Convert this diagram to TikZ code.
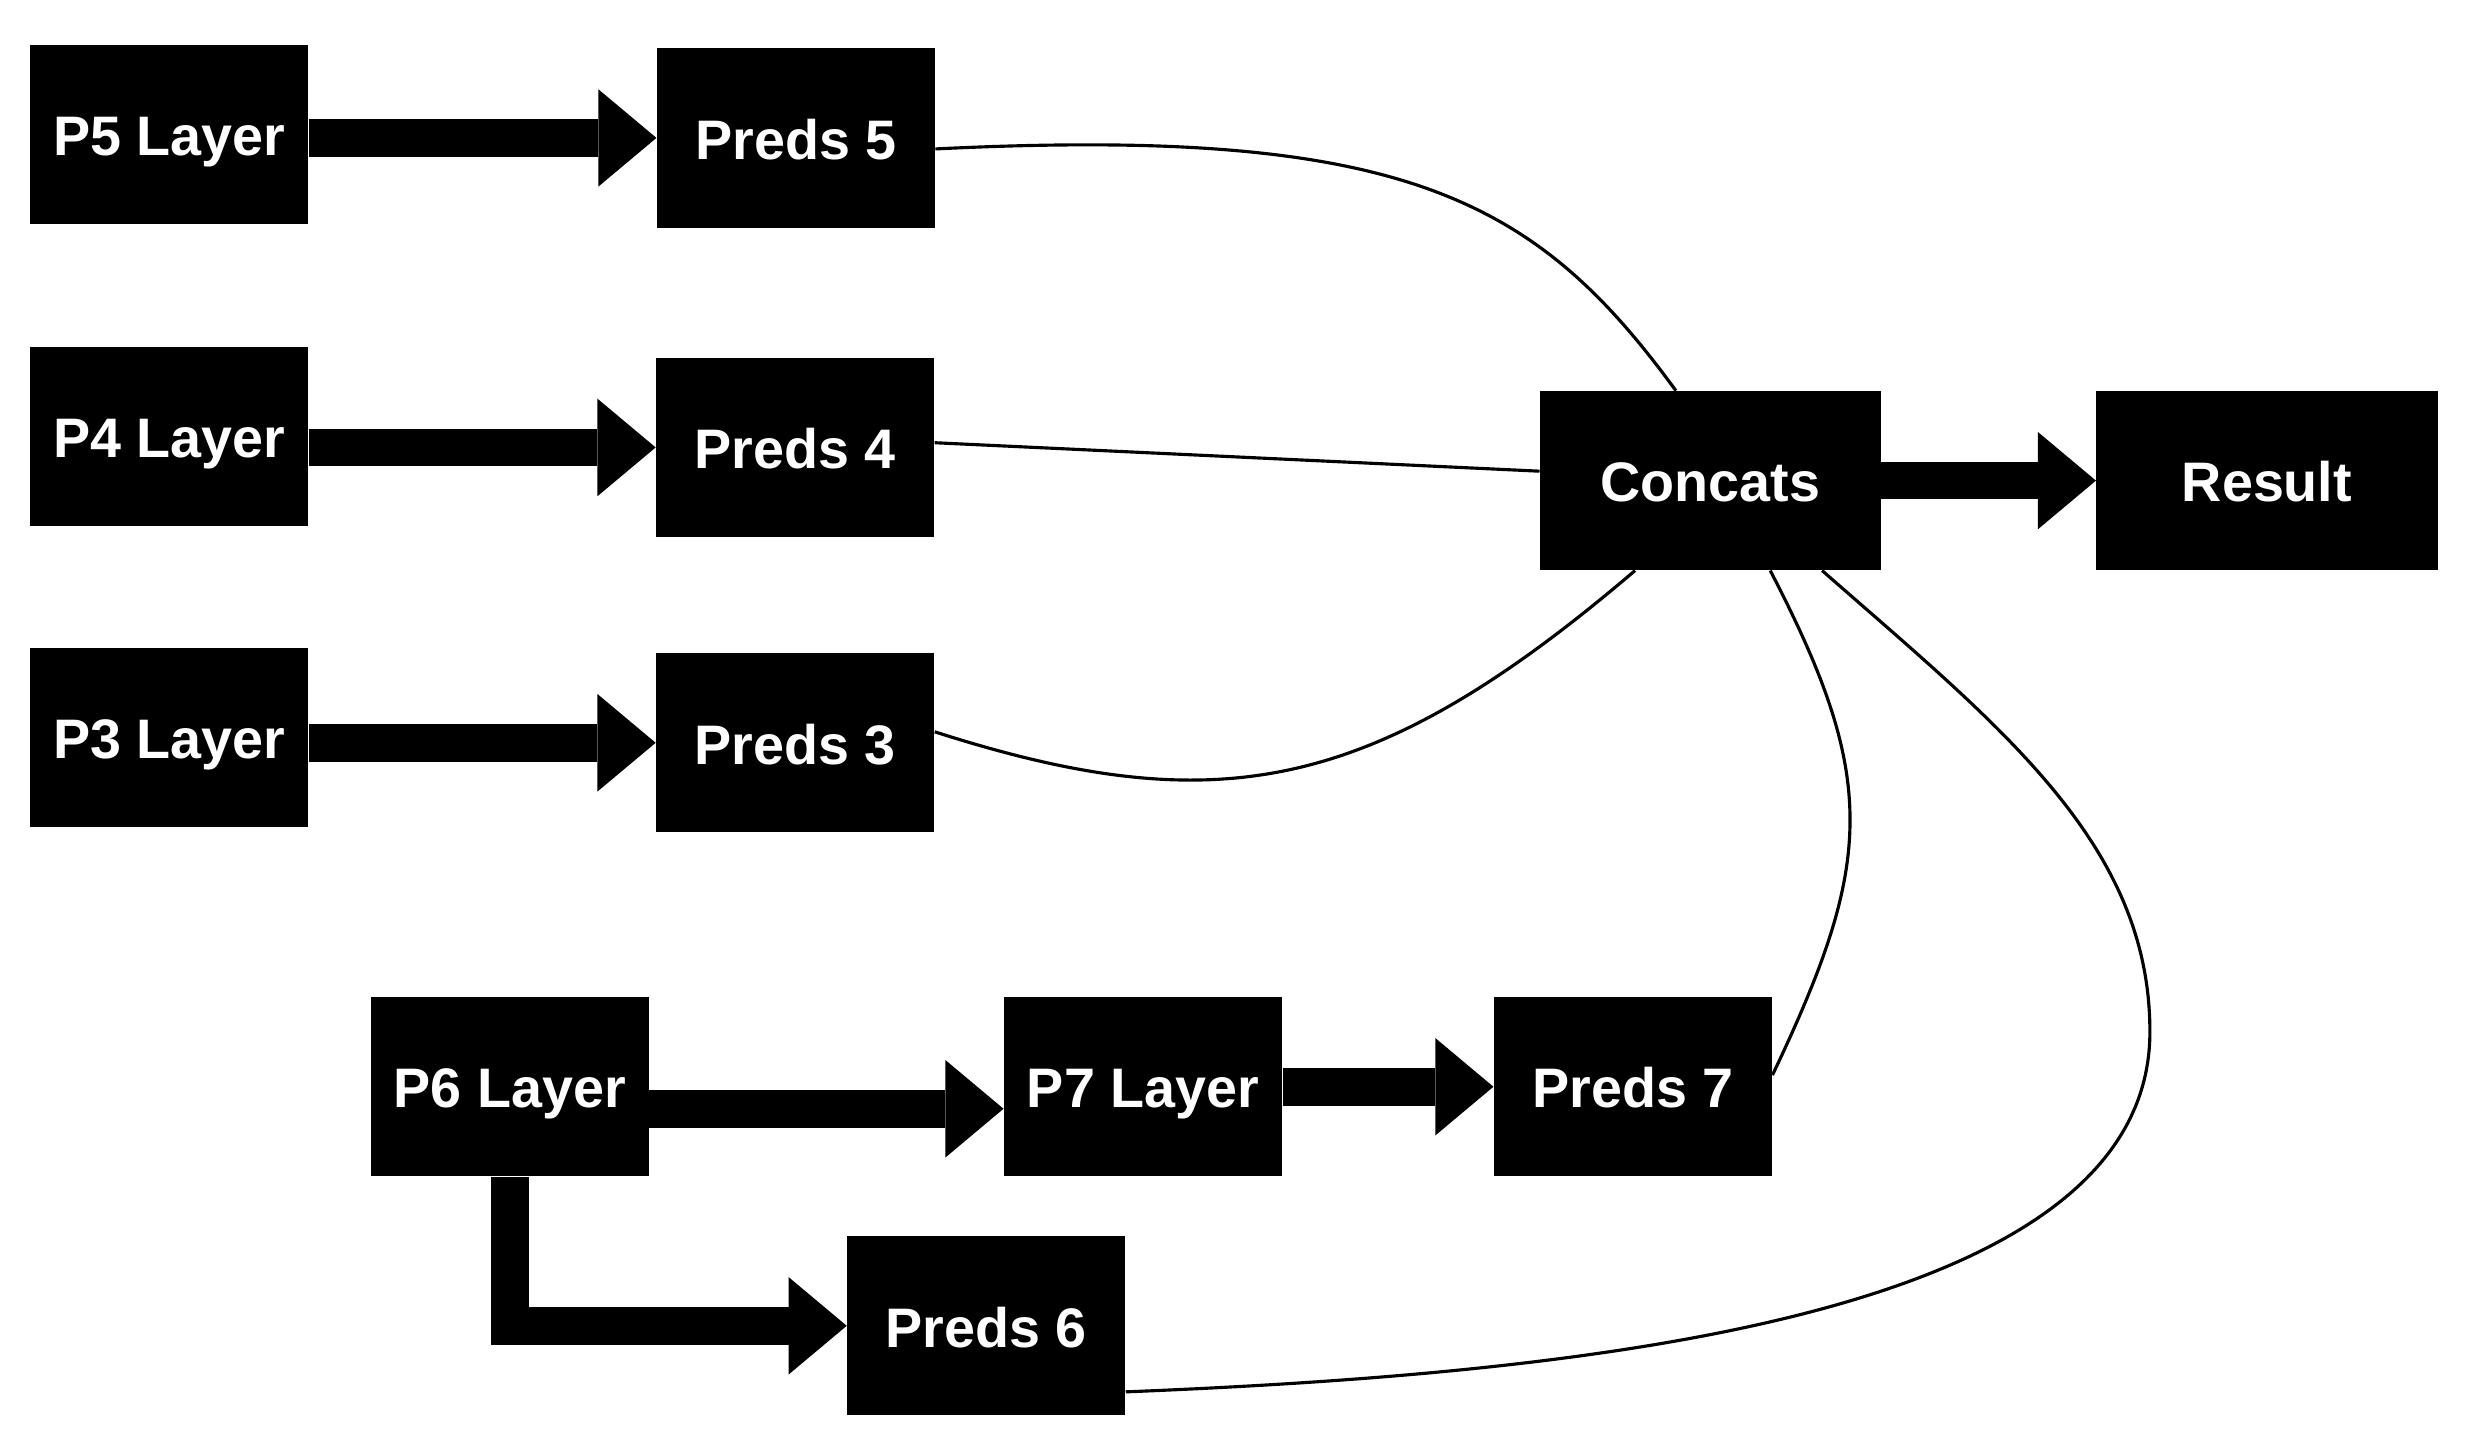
\documentclass[tikz,border=0pt]{standalone}
\usepackage{fontspec}
\setmainfont{Liberation Sans}
\usetikzlibrary{arrows.meta,calc}
\begin{document}
\begin{tikzpicture}[x=1pt,y=-1pt,
  box/.style={fill=black,text=white,inner sep=0pt,minimum width=177pt,minimum height=114pt,
    font=\fontsize{35.4}{40}\selectfont\bfseries,text height=27pt,text depth=0pt},
  widebox/.style={box,minimum width=217pt},
  blockarrow/.style={line width=24pt,line join=miter,-{Triangle[length=37pt,width=62pt,line width=0pt]}},
  link/.style={line width=2pt}]
\useasboundingbox (0,0) rectangle (1568,918);
\node[box] (p5) at (107.5,85.3) {P5 Layer};
\node[box] (pr5) at (506.1,87.7) {Preds 5};
\node[box] (p4) at (107.5,277.7) {P4 Layer};
\node[box] (pr4) at (505.6,284.5) {Preds 4};
\node[box] (p3) at (107.5,469) {P3 Layer};
\node[box] (pr3) at (505.6,472.3) {Preds 3};
\node[widebox] (conc) at (1087.6,305.6) {Concats};
\node[widebox] (res) at (1441.4,305.6) {Result};
\node[box] (p6) at (324.2,691) {P6 Layer};
\node[box] (p7) at (726.8,691) {P7 Layer};
\node[box] (pr7) at (1038.3,691) {Preds 7};
\node[box] (pr6) at (627.1,843) {Preds 6};
% block arrows
\draw[blockarrow] (p5.east |- pr5.west) -- (pr5.west);
\draw[blockarrow] (p4.east |- pr4.west) -- (pr4.west);
\draw[blockarrow] (p3.east |- pr3.west) -- (pr3.west);
\coordinate (a67) at ($(p6.east)+(0,14)$);
\draw[blockarrow] (a67) -- (p7.west |- a67);
\draw[blockarrow] (p7.east) -- (pr7.west);
\draw[blockarrow] (p6.south) |- (pr6.west);
\draw[blockarrow] (conc.east) -- (res.west);
% thin links
\draw[link] ($(pr5.east)+(0,7)$) .. controls (894,80) and (977,127) .. ($(conc.north)+(-22,0)$);
\draw[link] ($(pr4.east)+(0,-3)$) -- ($(conc.west)+(0,-6)$);
\draw[link] ($(pr3.east)+(0,-7)$) .. controls (773.4,522.7) and (872.3,505.6) .. ($(conc.south)+(-48,0)$);
\draw[link] ($(conc.south)+(38,0)$) .. controls (1194.9,496.2) and (1191.1,548.6) .. ($(pr7.east)+(0,-7.4)$);
\coordinate (q) at (1367,656);
\draw[link] ($(conc.south)+(71,0)$) .. controls (1271.3,461.7) and (1367,536) .. (q)
  .. controls (1367,836) and (1015.5,873) .. ($(pr6.east)+(0,42)$);
\end{tikzpicture}
\end{document}
